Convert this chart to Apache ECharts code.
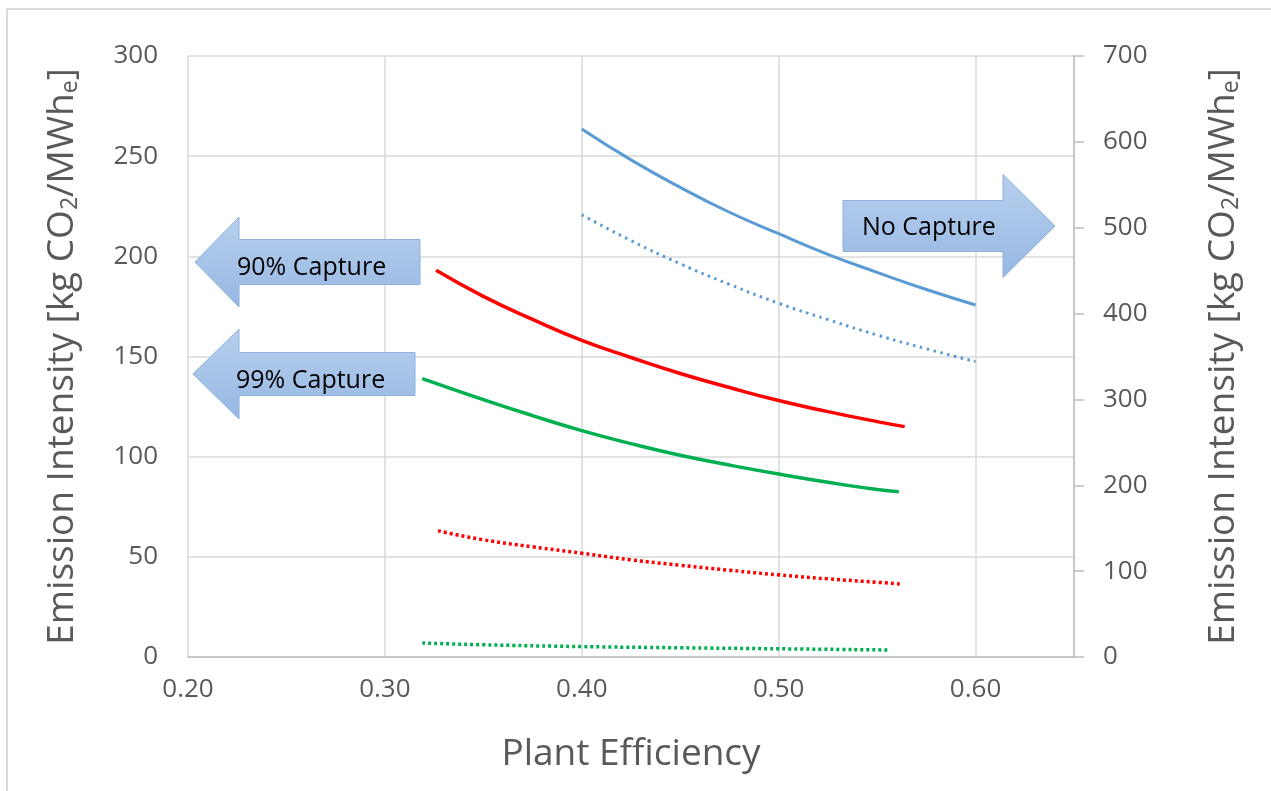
<!DOCTYPE html>
<html>
<head>
<meta charset="utf-8">
<script src="https://cdn.jsdelivr.net/npm/echarts@6/dist/echarts.min.js"></script>
<style>
html,body{margin:0;padding:0;background:#fff;}
#chart{width:1271px;height:791px;}
</style>
</head>
<body>
<div id="chart"></div>
<script>
// ---- data ----
var xTicks = [0.20, 0.30, 0.40, 0.50, 0.60];
var leftTicks = [0, 50, 100, 150, 200, 250, 300];
var rightTicks = [0, 100, 200, 300, 400, 500, 600, 700];

// No capture (right axis)
var noCapSolidX = [0.40, 0.425, 0.45, 0.475, 0.50, 0.525, 0.55, 0.575, 0.60];
var noCapSolidY = [615, 579, 547, 518, 493, 469, 448, 428, 410];
var noCapDotX   = [0.40, 0.425, 0.45, 0.475, 0.50, 0.525, 0.55, 0.575, 0.60];
var noCapDotY   = [515, 485, 458, 434, 412, 393, 375, 359, 344];

// 90% capture (left axis)
var cap90SolidX = [0.326, 0.35, 0.375, 0.40, 0.425, 0.45, 0.475, 0.50, 0.525, 0.55, 0.564];
var cap90SolidY = [193, 180, 168.5, 158, 149.5, 141.5, 134.5, 128, 122.5, 117.5, 115];
var cap90DotX   = [0.327, 0.35, 0.375, 0.40, 0.425, 0.45, 0.475, 0.50, 0.525, 0.55, 0.562];
var cap90DotY   = [63, 58.5, 55, 51.8, 48.5, 45.8, 43.3, 41, 39, 37.3, 36.4];

// 99% capture (left axis)
var cap99SolidX = [0.319, 0.35, 0.375, 0.40, 0.425, 0.45, 0.475, 0.50, 0.525, 0.55, 0.561];
var cap99SolidY = [139, 128.5, 120.5, 113, 106.5, 100.7, 95.8, 91.3, 87.2, 83.6, 82.5];
var cap99DotX   = [0.319, 0.35, 0.40, 0.45, 0.50, 0.556];
var cap99DotY   = [7, 6.1, 5.2, 4.6, 4.1, 3.5];

function pairs(xs, ys){ return xs.map(function(x,i){ return [x, ys[i]]; }); }

var chart = echarts.init(document.getElementById('chart'), null, {renderer:'canvas'});
var FONT = '"Open Sans", "Noto Sans", sans-serif';
var labelColor = '#595959';
var gridColor = '#d9d9d9';

var axisNameRich = {
  n: {fontSize: 37, color: labelColor, fontFamily: FONT},
  sub: {fontSize: 23, color: labelColor, fontFamily: FONT, verticalAlign: 'bottom', padding:[16,0,0,0]}
};
var axisName = '{n|Emission Intensity [kg CO}{sub|2}{n|/MWh}{sub|e}{n|]}';

function mkArrowLeft(tipX, tipY, headBaseX, headHalf, bodyRightX, bodyHalf){
  return [[tipX, tipY],[headBaseX, tipY-headHalf],[headBaseX, tipY-bodyHalf],[bodyRightX, tipY-bodyHalf],
          [bodyRightX, tipY+bodyHalf],[headBaseX, tipY+bodyHalf],[headBaseX, tipY+headHalf]];
}
function mkArrowRight(tipX, tipY, headBaseX, headHalf, bodyLeftX, bodyHalf){
  return [[tipX, tipY],[headBaseX, tipY-headHalf],[headBaseX, tipY-bodyHalf],[bodyLeftX, tipY-bodyHalf],
          [bodyLeftX, tipY+bodyHalf],[headBaseX, tipY+bodyHalf],[headBaseX, tipY+headHalf]];
}
var arrowFill = new echarts.graphic.LinearGradient(0,0,0,1,[{offset:0,color:'#b7cfee'},{offset:1,color:'#97b8e3'}]);
var arrowStroke = '#8db1dd';

var option = {
  backgroundColor: '#ffffff',
  animation: false,
  grid: {left: 188, right: 197, top: 56, bottom: 134, containLabel: false},
  xAxis: {
    type: 'value', min: 0.2, max: 0.65, interval: 0.1,
    name: 'Plant Efficiency', nameLocation: 'middle', nameGap: 79,
    nameTextStyle: {fontSize: 37, color: labelColor, fontFamily: FONT},
    axisLine: {show: true, lineStyle: {color: '#bfbfbf', width: 1.5}},
    axisTick: {show: false},
    axisLabel: {fontSize: 26, color: labelColor, fontFamily: FONT, margin: 20,
      formatter: function(v){ var r = Math.round(v*100)/100; return xTicks.indexOf(r) >= 0 ? r.toFixed(2) : ''; },
      showMaxLabel: false},
    splitLine: {show: true, lineStyle: {color: gridColor, width: 1.5}}
  },
  yAxis: [
    {
      type: 'value', min: 0, max: 300, interval: 50, position: 'left',
      name: axisName, nameLocation: 'middle', nameGap: 106, nameRotate: 90,
      nameTextStyle: {rich: axisNameRich},
      axisLine: {show: false}, axisTick: {show: false},
      axisLabel: {fontSize: 26, color: labelColor, fontFamily: FONT, margin: 30,
        formatter: function(v){ return leftTicks.indexOf(v) >= 0 ? String(v) : ''; }},
      splitLine: {show: true, lineStyle: {color: gridColor, width: 1.5}}
    },
    {
      type: 'value', min: 0, max: 700, interval: 100, position: 'right',
      name: axisName, nameLocation: 'middle', nameGap: 130, nameRotate: 90,
      nameTextStyle: {rich: axisNameRich},
      axisLine: {show: true, lineStyle: {color: '#bfbfbf', width: 1.5}},
      axisTick: {show: true, inside: false, length: 10, lineStyle: {color: '#bfbfbf', width: 1.5}},
      axisLabel: {fontSize: 26, color: labelColor, fontFamily: FONT, margin: 29,
        formatter: function(v){ return rightTicks.indexOf(v) >= 0 ? String(v) : ''; }},
      splitLine: {show: false}
    }
  ],
  series: [
    {name:'No capture', type:'line', yAxisIndex:1, smooth:true, showSymbol:false, data: pairs(noCapSolidX, noCapSolidY),
      lineStyle:{color:'#5b9bd5', width:3}},
    {name:'No capture dotted', type:'line', yAxisIndex:1, smooth:true, showSymbol:false, data: pairs(noCapDotX, noCapDotY),
      lineStyle:{color:'#5b9bd5', width:3, type:[2.5,4.5]}},
    {name:'90% capture', type:'line', yAxisIndex:0, smooth:true, showSymbol:false, data: pairs(cap90SolidX, cap90SolidY),
      lineStyle:{color:'#ff0000', width:3.5}},
    {name:'90% capture dotted', type:'line', yAxisIndex:0, smooth:true, showSymbol:false, data: pairs(cap90DotX, cap90DotY),
      lineStyle:{color:'#ff0000', width:3.5, type:[3,3]}},
    {name:'99% capture', type:'line', yAxisIndex:0, smooth:true, showSymbol:false, data: pairs(cap99SolidX, cap99SolidY),
      lineStyle:{color:'#00b050', width:3.5}},
    {name:'99% capture dotted', type:'line', yAxisIndex:0, smooth:true, showSymbol:false, data: pairs(cap99DotX, cap99DotY),
      lineStyle:{color:'#00b050', width:3.5, type:[3,3]}}
  ],
  graphic: [
    {type:'line', shape:{x1:7, y1:9, x2:1271, y2:9}, style:{stroke:'#d9d9d9', lineWidth:2}, silent:true},
    {type:'line', shape:{x1:7, y1:9, x2:7, y2:791}, style:{stroke:'#d9d9d9', lineWidth:2}, silent:true},
    {type:'polygon', shape:{points: mkArrowLeft(195, 262, 239, 45, 420, 22.5)}, style:{fill: arrowFill, stroke: arrowStroke, lineWidth:1}, z:10},
    {type:'text', x: 237, y: 268, z:11, style:{text:'90% Capture', fontSize:25, fill:'#000', fontFamily: FONT, verticalAlign:'middle', align:'left'}},
    {type:'polygon', shape:{points: mkArrowLeft(193, 374, 239, 45, 415, 21.5)}, style:{fill: arrowFill, stroke: arrowStroke, lineWidth:1}, z:10},
    {type:'text', x: 236, y: 381, z:11, style:{text:'99% Capture', fontSize:25, fill:'#000', fontFamily: FONT, verticalAlign:'middle', align:'left'}},
    {type:'polygon', shape:{points: mkArrowRight(1055, 226, 1003, 51.5, 843, 25.5)}, style:{fill: arrowFill, stroke: arrowStroke, lineWidth:1}, z:10},
    {type:'text', x: 862, y: 228, z:11, style:{text:'No Capture', fontSize:25, fill:'#000', fontFamily: FONT, verticalAlign:'middle', align:'left'}}
  ]
};
chart.setOption(option);
</script>
</body>
</html>
